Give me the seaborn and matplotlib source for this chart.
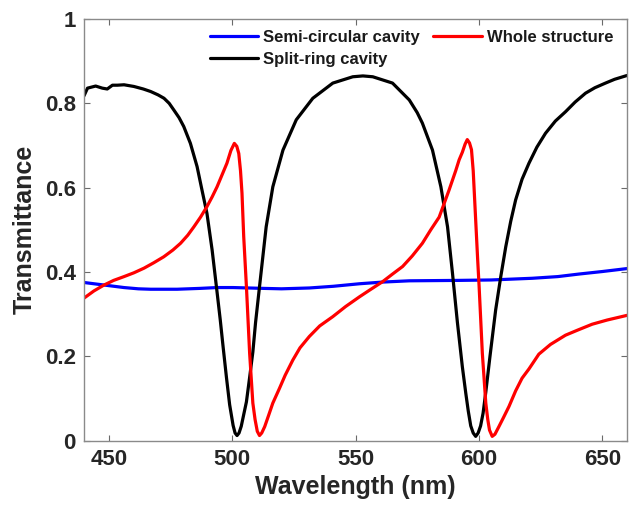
import matplotlib
matplotlib.use("Agg")
import matplotlib.pyplot as plt
import pandas as pd
import seaborn as sns

# values (wavelength in nm, transmittance)
semi_wl = [440, 444, 448.1, 456.2, 462, 467, 477.7, 486.9, 493.9, 500.4,
           512.8, 520, 531.3, 541, 551.6, 561, 571.8, 592, 605, 621.6,
           632, 640.5, 650, 660]
semi_t = [0.375, 0.372, 0.369, 0.363, 0.360, 0.359, 0.359, 0.361, 0.363, 0.363,
          0.361, 0.360, 0.362, 0.366, 0.372, 0.376, 0.379, 0.380, 0.381, 0.385,
          0.389, 0.395, 0.401, 0.408]

split_wl = [440, 441.4, 444.7, 447.4, 449.4, 451.5, 453.5, 456.2, 460.2, 464,
            467, 470, 472.4, 474.5, 476.4, 478.5, 480.4, 483.1, 485.8, 487.8,
            489.8, 491.9, 493.9, 495.2, 496.3, 497.7, 499, 500.4, 501.2, 502,
            502.8, 503.7, 505.8, 507.1, 508.4, 509.5, 511.1, 513.8, 516.5, 520.6,
            526, 532.7, 540.8, 548.9, 553, 557, 565, 571.8, 575, 577.1,
            581.2, 584.6, 587.3, 589.3, 591.3, 593.3, 594.7, 595.7, 596.7, 597.7,
            598.7, 599.7, 600.7, 601.7, 602.8, 604.5, 606.8, 608.9, 610.9, 612.9,
            614.9, 617.5, 620.3, 623.5, 627, 631, 635.1, 639, 643.2, 647,
            651.3, 655, 660]
split_t = [0.818, 0.836, 0.841, 0.836, 0.834, 0.843, 0.843, 0.844, 0.840, 0.834,
           0.828, 0.820, 0.812, 0.800, 0.784, 0.766, 0.745, 0.705, 0.650, 0.594,
           0.539, 0.452, 0.352, 0.286, 0.225, 0.150, 0.085, 0.036, 0.018, 0.012,
           0.018, 0.034, 0.092, 0.150, 0.210, 0.280, 0.365, 0.507, 0.602, 0.689,
           0.761, 0.812, 0.848, 0.863, 0.865, 0.863, 0.848, 0.808, 0.778, 0.753,
           0.689, 0.602, 0.507, 0.397, 0.280, 0.175, 0.112, 0.070, 0.035, 0.018,
           0.010, 0.018, 0.035, 0.065, 0.115, 0.200, 0.310, 0.390, 0.460, 0.520,
           0.571, 0.620, 0.658, 0.696, 0.729, 0.758, 0.780, 0.803, 0.824, 0.837,
           0.848, 0.857, 0.866]

whole_wl = [440, 444, 448.1, 452, 456.2, 460.2, 464.3, 468.3, 472.3, 476,
            479.1, 482, 484.5, 487.2, 489.8, 491.9, 493.9, 495.9, 497.9, 499.5,
            500.9, 501.9, 502.7, 503.4, 504, 504.7, 505.8, 507.1, 508.4, 509.3,
            510.2, 511.1, 512, 513.2, 514.8, 516.5, 519.2, 521.5, 524.6, 527.5,
            531.3, 535.5, 540.8, 546, 551.6, 556, 561, 565, 569.1, 573,
            577.1, 580.5, 583.9, 587.9, 590.6, 592, 593.3, 594.4, 595.3, 596.2,
            597, 597.7, 598.3, 598.9, 599.5, 600.1, 601.4, 602.8, 603.6, 604.3,
            605.4, 606.5, 608.1, 610, 612.2, 614.9, 617.5, 620.3, 624.3, 629,
            635.1, 640, 645.9, 652, 660]
whole_t = [0.338, 0.355, 0.369, 0.380, 0.389, 0.398, 0.409, 0.422, 0.436, 0.452,
           0.468, 0.487, 0.507, 0.530, 0.555, 0.578, 0.602, 0.630, 0.658, 0.688,
           0.705, 0.698, 0.681, 0.640, 0.587, 0.484, 0.365, 0.207, 0.089, 0.050,
           0.022, 0.012, 0.018, 0.033, 0.060, 0.089, 0.124, 0.155, 0.191, 0.220,
           0.247, 0.272, 0.294, 0.318, 0.341, 0.358, 0.377, 0.395, 0.413, 0.438,
           0.468, 0.500, 0.530, 0.594, 0.640, 0.666, 0.684, 0.703, 0.714, 0.706,
           0.690, 0.640, 0.570, 0.500, 0.430, 0.365, 0.207, 0.089, 0.050, 0.025,
           0.010, 0.015, 0.033, 0.055, 0.081, 0.118, 0.148, 0.170, 0.205, 0.228,
           0.250, 0.262, 0.276, 0.286, 0.297]

names = ["Semi-circular cavity", "Split-ring cavity", "Whole structure"]
colors = ["#0000ff", "#000000", "#ff0000"]

df = pd.concat([
    pd.DataFrame({"wl": semi_wl, "T": semi_t, "series": names[0]}),
    pd.DataFrame({"wl": split_wl, "T": split_t, "series": names[1]}),
    pd.DataFrame({"wl": whole_wl, "T": whole_t, "series": names[2]}),
])

sns.set_style("ticks")
plt.rcParams["font.family"] = ["Liberation Sans", "DejaVu Sans"]
plt.rcParams["font.weight"] = "bold"

fig = plt.figure(figsize=(6.32, 5.07), dpi=100)
ax = fig.add_axes([0.133, 0.131, 0.859, 0.8315])

sns.lineplot(data=df, x="wl", y="T", hue="series", hue_order=names,
             palette=colors, estimator=None, sort=False, linewidth=2.3, ax=ax)

ax.set_xlim(440, 660)
ax.set_ylim(0, 1)
ax.set_xticks([450, 500, 550, 600, 650])
ax.set_yticks([0, 0.2, 0.4, 0.6, 0.8, 1])
ax.set_yticklabels(["0", "0.2", "0.4", "0.6", "0.8", "1"])
ax.set_xlabel("Wavelength (nm)", fontsize=18, fontweight="bold",
              color="#262626", labelpad=4)
ax.set_ylabel("Transmittance", fontsize=18, fontweight="bold",
              color="#262626", labelpad=6)

for sp in ax.spines.values():
    sp.set_visible(True)
    sp.set_color("#8a8a8a")
    sp.set_linewidth(1.0)
ax.tick_params(direction="in", top=True, right=True, length=4, width=0.8,
               color="#6a6a6a", labelsize=16, labelcolor="#262626", pad=6)
for lab in ax.get_xticklabels() + ax.get_yticklabels():
    lab.set_fontweight("bold")

handles, labels = ax.get_legend_handles_labels()
leg = ax.legend(handles, labels, ncol=2, loc="upper left",
                bbox_to_anchor=(0.232, 0.975), frameon=False,
                prop={"size": 12, "weight": "bold"}, handlelength=2.9,
                handletextpad=0.3, columnspacing=0.8, labelspacing=0.45,
                borderpad=0, borderaxespad=0)
for t in leg.get_texts():
    t.set_color("#1a1a1a")

fig.savefig("out.png", dpi=100)
